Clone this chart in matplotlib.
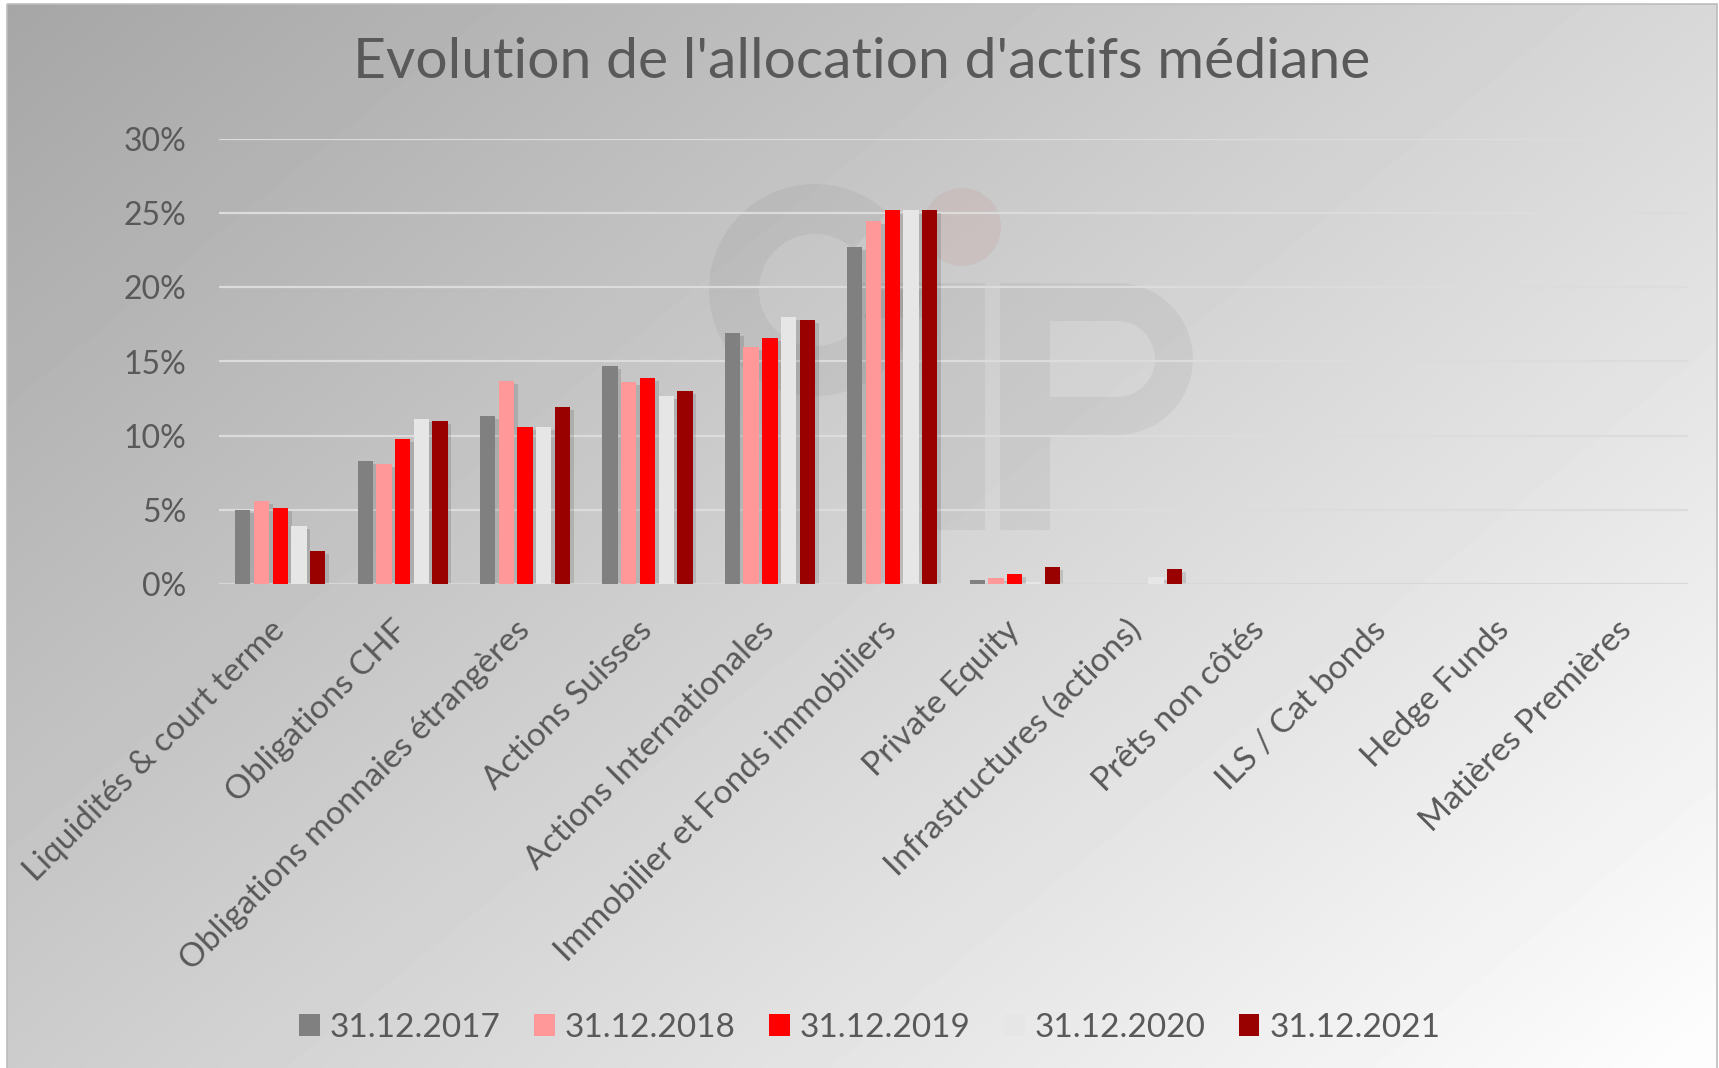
import numpy as np
import matplotlib
matplotlib.use("Agg")
import matplotlib.pyplot as plt
from matplotlib.patches import Wedge, Rectangle, Circle

plt.rcParams["font.family"] = ["Lato", "DejaVu Sans"]

W, H = 1719, 1068
TXT = "#595959"

categories = ["Liquidités & court terme", "Obligations CHF", "Obligations monnaies étrangères",
              "Actions Suisses", "Actions Internationales", "Immobilier et Fonds immobiliers",
              "Private Equity", "Infrastructures (actions)", "Prêts non côtés",
              "ILS / Cat bonds", "Hedge Funds", "Matières Premières"]
series = ["31.12.2017", "31.12.2018", "31.12.2019", "31.12.2020", "31.12.2021"]
v2017 = [5.0, 8.3, 11.3, 14.7, 16.9, 22.7, 0.25, 0, 0, 0, 0, 0]
v2018 = [5.6, 8.1, 13.7, 13.6, 16.0, 24.5, 0.4, 0, 0, 0, 0, 0]
v2019 = [5.1, 9.8, 10.6, 13.9, 16.6, 25.2, 0.65, 0, 0, 0, 0, 0]
v2020 = [3.9, 11.1, 10.6, 12.7, 18.0, 25.2, 0.12, 0.5, 0, 0, 0, 0]
v2021 = [2.2, 11.0, 11.9, 13.0, 17.8, 25.2, 1.15, 1.0, 0, 0, 0, 0]
colors = ["#808080", "#ff9999", "#ff0000", "#e6e6e6", "#990000"]
yticks = [0, 5, 10, 15, 20, 25, 30]

fig = plt.figure(figsize=(W / 100, H / 100), dpi=100)

# fond dégradé + filigrane, en coordonnées pixel
bg = fig.add_axes([0, 0, 1, 1])
bg.set_xlim(0, W); bg.set_ylim(H, 0); bg.axis("off")
xx, yy = np.meshgrid(np.linspace(0, 1, 400), np.linspace(0, 1, 250))
grad = (166 + 50 * xx + 38 * yy).clip(0, 253) / 255
bg.imshow(grad, cmap="gray", vmin=0, vmax=1, extent=[7, W - 2, H, 4], aspect="auto",
          interpolation="bilinear", zorder=0)
bg.add_patch(Rectangle((7, 4), W - 9, H, fill=False, ec="#bdbdbd", lw=1.2, zorder=1))
wm = dict(fc="black", ec="none", alpha=0.045, zorder=1)
bg.add_patch(Wedge((815, 290), 106, 0, 313, width=50, **wm))
bg.add_patch(Rectangle((850, 283), 78, 35, **wm))
bg.add_patch(Rectangle((928, 283), 57, 247, **wm))
bg.add_patch(Rectangle((1000, 283), 50, 247, **wm))
bg.add_patch(Rectangle((1050, 283), 67, 38, **wm))
bg.add_patch(Rectangle((1050, 397), 67, 38, **wm))
bg.add_patch(Wedge((1117, 359), 76, -90, 90, width=38, **wm))
bg.add_patch(Circle((962, 227), 39, fc="#c03030", ec="none", alpha=0.07, zorder=1))

ax = fig.add_axes([219 / W, 1 - 584 / H, (1688 - 219) / W, (584 - 139) / H])
ax.patch.set_alpha(0)
x = np.arange(len(categories))
bw, step = 0.125, 0.153
for j, (vals, c) in enumerate(zip([v2017, v2018, v2019, v2020, v2021], colors)):
    pos = x + (j - 2) * step
    vals = np.array(vals)
    # ombre portée
    ax.bar(pos + 0.03, np.clip(vals - 0.2, 0, None), bw, color="black", alpha=0.12, zorder=2)
    ax.bar(pos, vals, bw, color=c, label=series[j], zorder=3)

ax.set_xlim(-0.5, 11.5)
ax.set_ylim(0, 30)
ax.set_yticks(yticks)
ax.set_yticklabels([f"{t}%" for t in yticks])
ax.set_xticks(x)
ax.set_xticklabels(categories)
ax.grid(axis="y", color="#dcdcdc", lw=1.6, zorder=1)
ax.set_axisbelow(True)
for s in ax.spines.values():
    s.set_visible(False)
ax.axhline(0, color="#d6d6d6", lw=1.8, zorder=2)
ax.tick_params(axis="y", length=0, pad=23.5, labelsize=23, labelcolor=TXT)
ax.tick_params(axis="x", length=0, pad=30, labelsize=24, labelcolor=TXT)
plt.setp(ax.get_xticklabels(), rotation=45, ha="right", va="center", rotation_mode="anchor")

fig.text(0.501, 1 - 62 / H, "Evolution de l'allocation d'actifs médiane", ha="center",
         va="center", fontsize=41, color=TXT)

fig.legend(*ax.get_legend_handles_labels(), loc="center", bbox_to_anchor=(0.506, 1 - 1028 / H),
           ncol=5, frameon=False, fontsize=24, labelcolor=TXT, handlelength=0.62,
           handleheight=0.62, handletextpad=0.3, columnspacing=1.0)

fig.savefig("out.png", dpi=100)
